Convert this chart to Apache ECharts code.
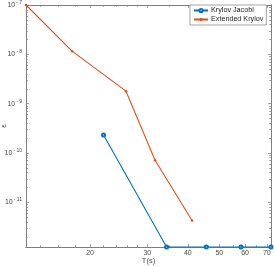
<!DOCTYPE html>
<html><head><meta charset="utf-8">
<script src="https://cdn.jsdelivr.net/npm/echarts@6/dist/echarts.min.js"></script>
<style>html,body{margin:0;padding:0;background:#fff}#c{width:274px;height:267px}</style>
</head><body><div id="c"></div>
<script>
// Data (T in seconds, error epsilon)
const seriesNames = ['Krylov Jacobi', 'Extended Krylov'];
const tKJ = [22.0, 34.4, 45.6, 58.3, 72.1];
const eKJ = [2.31e-10, 1.24e-12, 1.24e-12, 1.24e-12, 1.24e-12];
const tEK = [12.7, 17.6, 25.8, 31.7, 41.2];
const eEK = [1e-7, 1.16e-8, 1.79e-9, 7.1e-11, 4.27e-12];
const xTickLabels = [20, 30, 40, 50, 60, 70];
const xMinorTicks = [14, 16, 18, 22, 24, 26, 28, 35, 45, 55, 65];
const yTickExponents = [-11, -10, -9, -8, -7];
const xRange = [12.7, 72.1];
const yRange = [1.24e-12, 1e-7];

const L = Math.log10;
const yMinor = [];
for (let k = -12; k <= -8; k++) for (let m = 2; m <= 9; m++) yMinor.push(L(m) + k);

const axisCol = '#7a7a7a';
const textCol = '#4a4a4a';
const font = 'Liberation Sans, Arial, sans-serif';

function xAx(pos, ticks, len, labels) {
  return {
    type: 'value', position: pos, min: L(xRange[0]), max: L(xRange[1]),
    splitLine: {show: false},
    axisLine: {show: true, onZero: false, lineStyle: {color: axisCol, width: 0.8}},
    axisTick: {show: true, inside: true, length: len, customValues: ticks, lineStyle: {color: axisCol, width: 0.7}},
    axisLabel: labels ? {show: true, customValues: ticks, margin: 3, fontSize: 7, color: textCol, fontFamily: font,
      formatter: v => String(Math.round(Math.pow(10, v)))} : {show: false},
    name: labels ? 'T(s)' : '', nameLocation: 'middle', nameGap: 14, nameMoveOverlap: false,
    nameTextStyle: {fontSize: 7.5, color: textCol, fontFamily: font, verticalAlign: 'middle'}
  };
}
function yAx(pos, ticks, len, labels) {
  return {
    type: 'value', position: pos, min: L(yRange[0]), max: L(yRange[1]),
    splitLine: {show: false},
    axisLine: {show: true, onZero: false, lineStyle: {color: axisCol, width: 0.8}},
    axisTick: {show: true, inside: true, length: len, customValues: ticks, lineStyle: {color: axisCol, width: 0.7}},
    axisLabel: labels ? {show: true, customValues: ticks, margin: 4, fontSize: 7, color: textCol, fontFamily: font,
      formatter: v => '{b|10}{s|' + String(Math.round(v)).replace('-', '- ') + '}',
      rich: {b: {fontSize: 7, color: textCol, fontFamily: font},
             s: {fontSize: 5, color: textCol, fontFamily: font, verticalAlign: 'bottom', padding: [0, 0, 5, 1]}}} : {show: false},
    name: labels ? 'ε' : '', nameLocation: 'middle', nameGap: 18, nameRotate: 90, nameMoveOverlap: false,
    nameTextStyle: {fontSize: 8, color: textCol, fontFamily: font}
  };
}

const majX = xTickLabels.map(L), minX = xMinorTicks.map(L);
const majY = yTickExponents.slice();

const chart = echarts.init(document.getElementById('c'), null, {renderer: 'canvas'});
chart.setOption({
  animation: false,
  backgroundColor: '#fff',
  grid: {left: 26, right: 3, top: 5, bottom: 20, containLabel: false, outerBoundsMode: 'none'},
  xAxis: [xAx('bottom', majX, 3, true), xAx('bottom', minX, 1.8, false), xAx('top', majX, 3, false), xAx('top', minX, 1.8, false)],
  yAxis: [yAx('left', majY, 3, true), yAx('left', yMinor, 1.8, false), yAx('right', majY, 3, false), yAx('right', yMinor, 1.8, false)],
  legend: {
    left: 190, top: 5, orient: 'vertical', itemGap: 2, itemWidth: 14, itemHeight: 4,
    padding: [2, 3, 2, 3], borderColor: '#8a8a8a', borderWidth: 0.8, backgroundColor: '#fff',
    textStyle: {fontSize: 7.2, color: '#262626', fontFamily: font, padding: [0, 0, 0, -2]},
    data: seriesNames.map(n => ({name: n}))
  },
  series: [
    {name: seriesNames[0], type: 'line', xAxisIndex: 0, yAxisIndex: 0,
     data: tKJ.map((t, i) => [L(t), L(eKJ[i])]),
     symbol: 'emptyCircle', symbolSize: 3, clip: false,
     lineStyle: {color: '#0072BD', width: 1.1}, itemStyle: {color: '#0072BD', borderWidth: 1.1}},
    {name: seriesNames[1], type: 'line', xAxisIndex: 0, yAxisIndex: 0,
     data: tEK.map((t, i) => [L(t), L(eEK[i])]),
     symbol: 'circle', symbolSize: 2.5, clip: false,
     lineStyle: {color: '#D95319', width: 1.1}, itemStyle: {color: '#D95319'}}
  ]
});
</script></body></html>
